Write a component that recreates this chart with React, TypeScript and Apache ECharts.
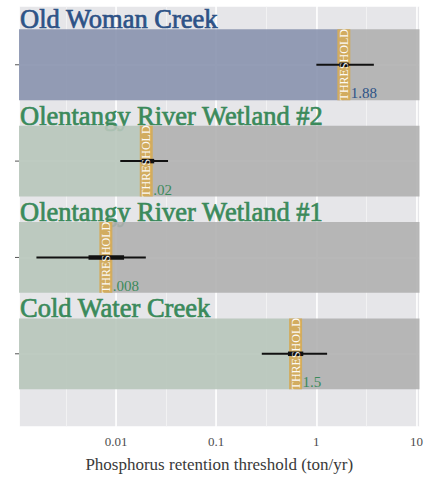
import React, { useEffect, useRef } from "react";
import * as echarts from "echarts";

// ---- data ----
const sites = [
  "Old Woman Creek",
  "Olentangy River Wetland #2",
  "Olentangy River Wetland #1",
  "Cold Water Creek",
];
const rowPos = [4, 3, 2, 1];
const thresholds = [1.88, 0.02, 0.0079, 0.62];
const thresholdLabels = ["1.88", ".02", ".008", "1.5"];
const ciLow = [1.0, 0.011, 0.0016, 0.285];
const ciHigh = [3.75, 0.033, 0.0198, 1.28];
const iqLow = [1.7, 0.018, 0.0053, 0.52];
const iqHigh = [2.1, 0.024, 0.012, 0.74];
const tickValues = [0.01, 0.1, 1, 10];
const xAxisTitle = "Phosphorus retention threshold (ton/yr)";
const thresholdText = "THRESHOLD";

// ---- styles ----
const X_MIN = -2.97;
const X_MAX = 1.03;
const Y_MIN = 0.24;
const Y_MAX = 4.61;
const BAND = 0.735;
const GOLD_W = 13;
const SERIF = '"Liberation Serif", "DejaVu Serif", serif';
const titleColors = ["#2d5286", "#3b8a5b", "#3b8a5b", "#3b8a5b"];
const labelColors = ["#2d5286", "#3b8a5b", "#3b8a5b", "#3b8a5b"];
const leftFills = [
  "rgba(136,146,174,0.9)",
  "rgba(183,197,186,0.9)",
  "rgba(183,197,186,0.9)",
  "rgba(183,197,186,0.9)",
];
const rightFill = "rgba(176,176,176,0.9)";
const goldFill = "#d2ac5f";

const log10 = (v: number) => Math.log10(v);

export default function App() {
  const ref = useRef<HTMLDivElement>(null);

  useEffect(() => {
    document.body.style.margin = "0";
    if (!ref.current) return;
    const chart = echarts.init(ref.current, undefined, { renderer: "svg" });

    const data = sites.map((_, i) => [log10(thresholds[i]), rowPos[i], i]);

    const renderItem = (params: any, api: any) => {
      const i = api.value(2);
      const y = api.value(1);
      const [x0, yc] = api.coord([X_MIN, y]);
      const xEnd = api.coord([X_MAX, y])[0];
      const xt = api.coord([api.value(0), y])[0];
      const h = api.size([0, BAND])[1];
      const top = yc - h / 2;
      const bottom = yc + h / 2;
      const xLo = api.coord([log10(ciLow[i]), y])[0];
      const xHi = api.coord([log10(ciHigh[i]), y])[0];
      const xqLo = api.coord([log10(iqLow[i]), y])[0];
      const xqHi = api.coord([log10(iqHigh[i]), y])[0];
      return {
        type: "group",
        children: [
          {
            type: "text",
            style: {
              text: sites[i],
              x: x0 + 1,
              y: top - 10,
              fill: titleColors[i],
              stroke: titleColors[i],
              lineWidth: 0.7,
              font: `26.5px ${SERIF}`,
              lineHeight: 18,
              textAlign: "left",
              textVerticalAlign: "middle",
            },
          },
          {
            type: "rect",
            shape: { x: x0, y: top, width: xt - x0, height: h },
            style: { fill: leftFills[i] },
          },
          {
            type: "rect",
            shape: { x: xt, y: top, width: xEnd - xt, height: h },
            style: { fill: rightFill },
          },
          {
            type: "rect",
            shape: { x: xt - GOLD_W / 2, y: top, width: GOLD_W, height: h },
            style: { fill: goldFill },
          },
          {
            type: "line",
            shape: { x1: xLo, y1: yc, x2: xHi, y2: yc },
            style: { stroke: "#111111", lineWidth: 2 },
          },
          {
            type: "line",
            shape: { x1: xqLo, y1: yc, x2: xqHi, y2: yc },
            style: { stroke: "#111111", lineWidth: 4.5 },
          },
          {
            type: "text",
            x: xt,
            y: yc,
            rotation: Math.PI / 2,
            style: {
              text: thresholdText,
              x: 0,
              y: 0,
              fill: "rgba(255,255,255,0.95)",
              font: `12px ${SERIF}`,
              textAlign: "center",
              textVerticalAlign: "middle",
            },
          },
          {
            type: "text",
            style: {
              text: thresholdLabels[i],
              x: xt + GOLD_W / 2 + 0.5,
              y: bottom - 7,
              fill: labelColors[i],
              font: `15px ${SERIF}`,
              lineHeight: 11,
              textAlign: "left",
              textVerticalAlign: "middle",
            },
          },
          {
            type: "line",
            shape: { x1: x0 - 4, y1: yc, x2: x0, y2: yc },
            style: { stroke: "#555555", lineWidth: 1 },
          },
        ],
      };
    };

    const labelFor = (v: number) => {
      const t = tickValues.find((tv) => Math.abs(log10(tv) - v) < 1e-6);
      return t === undefined ? "" : String(t);
    };

    chart.setOption({
      animation: false,
      backgroundColor: "#ffffff",
      grid: { left: 19, right: 2, top: 6, bottom: 47, backgroundColor: "#e6e6e9", show: true, borderWidth: 0 },
      xAxis: [
        {
          type: "value",
          min: X_MIN,
          max: X_MAX,
          splitNumber: 8,
          axisLine: { show: false },
          axisTick: { show: false },
          axisLabel: { show: false },
          splitLine: { show: true, lineStyle: { color: "#f7f7f8", width: 0.7 } },
        },
        {
          type: "value",
          min: X_MIN,
          max: X_MAX,
          splitNumber: 4,
          position: "bottom",
          axisLine: { show: false },
          axisTick: { show: false },
          axisLabel: {
            show: true,
            formatter: labelFor,
            showMinLabel: false,
            showMaxLabel: false,
            color: "#4d4d4d",
            fontFamily: SERIF,
            fontSize: 13,
            margin: 8,
          },
          splitLine: { show: true, lineStyle: { color: "#ffffff", width: 1.5 } },
          name: xAxisTitle,
          nameLocation: "middle",
          nameGap: 29,
          nameTextStyle: { color: "#3a3a3a", fontFamily: SERIF, fontSize: 17 },
        },
      ],
      yAxis: {
        type: "value",
        min: Y_MIN,
        max: Y_MAX,
        splitNumber: 4,
        axisLine: { show: false },
        axisTick: { show: false },
        axisLabel: { show: false },
        splitLine: { show: true, lineStyle: { color: "#ffffff", width: 1.5 } },
      },
      series: [
        {
          type: "custom",
          xAxisIndex: 0,
          clip: false,
          renderItem,
          encode: { x: 0, y: 1 },
          data,
        },
      ],
    });

    return () => chart.dispose();
  }, []);

  return <div ref={ref} style={{ width: 426, height: 478 }} />;
}
